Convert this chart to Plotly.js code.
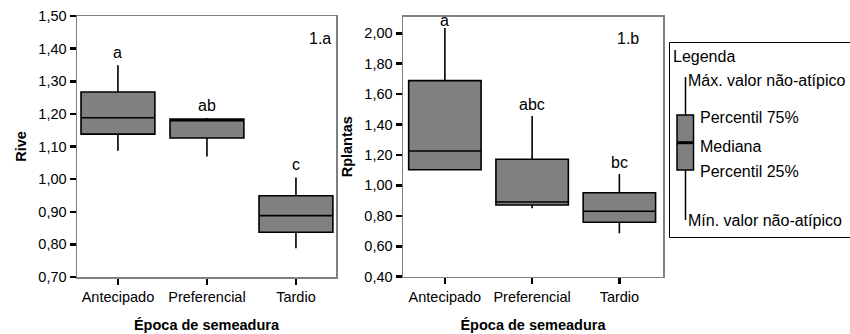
<!DOCTYPE html>
<html><head><meta charset="utf-8">
<script src="https://cdn.plot.ly/plotly-3.0.1.min.js"></script>
<style>body{margin:0;background:#fff}</style></head>
<body><div id="c" style="width:850px;height:334px"></div>
<script>
// ---- data ----
const categories = ['Antecipado', 'Preferencial', 'Tardio'];
// Panel 1.a: Rive
const riveMin    = [1.087, 1.069, 0.788];
const riveQ1     = [1.138, 1.126, 0.837];
const riveMedian = [1.188, 1.179, 0.888];
const riveQ3     = [1.267, 1.184, 0.949];
const riveMax    = [1.349, 1.187, 1.005];
const riveLetters = ['a', 'ab', 'c'];
// Panel 1.b: Rplantas
const rplMin    = [1.103, 0.850, 0.685];
const rplQ1     = [1.103, 0.871, 0.758];
const rplMedian = [1.226, 0.891, 0.830];
const rplQ3     = [1.689, 1.172, 0.952];
const rplMax    = [2.035, 1.456, 1.075];
const rplLetters = ['a', 'abc', 'bc'];
const legendLabels = ['Legenda', 'Máx. valor não-atípico', 'Percentil 75%', 'Mediana', 'Percentil 25%', 'Mín. valor não-atípico'];

// ---- layout helpers ----
const W = 850, H = 334;
const px = x => x / W, py = y => 1 - y / H;
const FONT = 'Liberation Sans, Arial, sans-serif';
const TXT = 16;

function boxTrace(lo, q1, med, q3, hi, xa, ya) {
  return {
    type: 'box', x: categories, lowerfence: lo, q1: q1, median: med, q3: q3, upperfence: hi,
    xaxis: xa, yaxis: ya, boxpoints: false, whiskerwidth: 0, width: 0.83,
    fillcolor: '#808080', line: {color: '#000', width: 1.6}, hoverinfo: 'skip', showlegend: false
  };
}

const traces = [
  boxTrace(riveMin, riveQ1, riveMedian, riveQ3, riveMax, 'x', 'y'),
  boxTrace(rplMin, rplQ1, rplMedian, rplQ3, rplMax, 'x2', 'y2')
];

const xBase = {
  type: 'category', showgrid: false, zeroline: false, showline: true, mirror: true,
  linecolor: '#808080', linewidth: 1.5, ticks: 'outside', ticklen: 6, tickwidth: 2.5, tickcolor: '#000',
  tickfont: {family: FONT, size: 14.5, color: '#000'}, fixedrange: true,
  title: {text: '<b>Época de semeadura</b>', font: {family: FONT, size: 14.5, color: '#000'}, standoff: 16}
};
const yBase = {
  showgrid: false, zeroline: false, showline: true, mirror: true,
  linecolor: '#808080', linewidth: 1.5, ticks: 'outside', ticklen: 6, tickwidth: 2.5, tickcolor: '#000',
  tickfont: {family: FONT, size: 14.5, color: '#000'}, tickformat: '.2f', fixedrange: true
};

const annotations = [];
riveLetters.forEach((t, i) => annotations.push({
  xref: 'x', yref: 'y', x: categories[i], y: riveMax[i], text: t, showarrow: false,
  yanchor: 'bottom', yshift: 2, font: {family: FONT, size: TXT, color: '#000'}
}));
rplLetters.forEach((t, i) => annotations.push({
  xref: 'x2', yref: 'y2', x: categories[i], y: rplMax[i], text: t, showarrow: false,
  yanchor: 'bottom', yshift: i === 0 ? -3 : 1, font: {family: FONT, size: TXT, color: '#000'}
}));
annotations.push({xref: 'paper', yref: 'paper', x: px(320), y: py(28), text: '1.a', showarrow: false,
  font: {family: FONT, size: TXT, color: '#000'}});
annotations.push({xref: 'paper', yref: 'paper', x: px(641), y: py(28), text: '1.b', showarrow: false,
  font: {family: FONT, size: TXT, color: '#000'}});

// legend panel text
const legPos = [[671, 56], [686, 80], [698, 117], [698, 146], [698, 172], [686, 220]];
legendLabels.forEach((t, i) => annotations.push({
  xref: 'paper', yref: 'paper', x: px(legPos[i][0]), y: py(legPos[i][1]), text: t, showarrow: false,
  xanchor: 'left', yanchor: 'middle', font: {family: FONT, size: TXT, color: '#000'}
}));

const shapes = [
  {type: 'rect', xref: 'paper', yref: 'paper', x0: px(669.5), x1: px(852), y0: py(237.5), y1: py(42.5),
   line: {color: '#000', width: 1}},
  {type: 'line', xref: 'paper', yref: 'paper', x0: px(685.5), x1: px(685.5), y0: py(220), y1: py(77),
   line: {color: '#000', width: 1.5}},
  {type: 'rect', xref: 'paper', yref: 'paper', x0: px(677), x1: px(693.5), y0: py(170), y1: py(115),
   fillcolor: '#808080', line: {color: '#000', width: 1.5}},
  {type: 'line', xref: 'paper', yref: 'paper', x0: px(677), x1: px(693.5), y0: py(142.7), y1: py(142.7),
   line: {color: '#000', width: 3}}
];

const layout = {
  width: W, height: H, margin: {l: 0, r: 0, t: 0, b: 0},
  paper_bgcolor: '#fff', plot_bgcolor: '#fff', separators: ',.', showlegend: false,
  xaxis: Object.assign({}, xBase, {domain: [px(77), px(336)], range: [-0.46, 2.45], anchor: 'y'}),
  yaxis: Object.assign({}, yBase, {domain: [py(277), py(16)], range: [0.70, 1.50], dtick: 0.1, tick0: 0.7,
    anchor: 'x', title: {text: '<b>Rive</b>', font: {family: FONT, size: 14.5, color: '#000'}, standoff: 8}}),
  xaxis2: Object.assign({}, xBase, {domain: [px(403), px(663)], range: [-0.48, 2.5], anchor: 'y2'}),
  yaxis2: Object.assign({}, yBase, {domain: [py(276.7), py(16.7)], range: [0.40, 2.109], dtick: 0.2, tick0: 0.4,
    anchor: 'x2', title: {text: '<b>Rplantas</b>', font: {family: FONT, size: 14.5, color: '#000'}, standoff: 8}}),
  annotations: annotations, shapes: shapes
};

Plotly.newPlot('c', traces, layout, {staticPlot: true, displayModeBar: false});
</script></body></html>
